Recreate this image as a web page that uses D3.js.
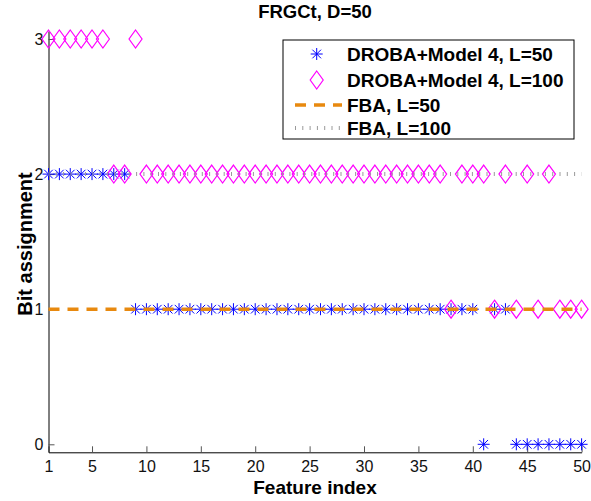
<!DOCTYPE html>
<html><head><meta charset="utf-8">
<script src="https://cdn.jsdelivr.net/npm/d3@7"></script>
<style>body{margin:0;background:#fff}svg{display:block;font-family:"Liberation Sans",Arial,sans-serif}</style>
</head><body><svg id="c" width="591" height="501"></svg>
<script>
const featureIndex = d3.range(1, 51);
// DROBA+Model 4, L=50
const drobaL50 = [2,2,2,2,2,2,2,2,1,1, 1,1,1,1,1,1,1,1,1,1, 1,1,1,1,1,1,1,1,1,1, 1,1,1,1,1,1,1,1,1,1, 0,1,1,0,0,0,0,0,0,0];
// DROBA+Model 4, L=100
const drobaL100 = [3,3,3,3,3,3,2,2,3,2, 2,2,2,2,2,2,2,2,2,2, 2,2,2,2,2,2,2,2,2,2, 2,2,2,2,2,2,2,1,2,2, 2,1,2,1,2,1,2,1,1,1];
// FBA
const fbaL50 = featureIndex.map(() => 1);
const fbaL100 = featureIndex.map(() => 2);
const xTicks = [1,5,10,15,20,25,30,35,40,45,50];
const yTicks = [0,1,2,3];
const legendLabels = ["DROBA+Model 4, L=50","DROBA+Model 4, L=100","FBA, L=50","FBA, L=100"];

const svg = d3.select("#c");
const x = d3.scaleLinear().domain([1,50]).range([48.5,581.6]);
const y = d3.scaleLinear().domain([0,3]).range([444.3,39]);
const yBottom = 452.3, yTop = 31;

const blue="#0000ff", magenta="#ff00ff", orange="#e8890f", grey="#9a9a9a";

// axes
const xAxis = d3.axisBottom(x).tickValues(xTicks).tickSizeInner(-6).tickSizeOuter(0).tickPadding(8);
const gx = svg.append("g").attr("transform",`translate(0,${yBottom})`).call(xAxis);
gx.select(".domain").attr("stroke","#000");
gx.selectAll(".tick line").attr("stroke","#555");
gx.selectAll("text").attr("font-size",16).attr("font-family","Liberation Sans, Arial").attr("fill","#111");

const yAxisScale = d3.scaleLinear().domain([y.invert(yBottom), y.invert(yTop)]).range([yBottom,yTop]);
const yAxis = d3.axisLeft(yAxisScale).tickValues(yTicks).tickSizeInner(-6).tickSizeOuter(0).tickPadding(5).tickFormat(d3.format("d"));
const gy = svg.append("g").attr("transform",`translate(${x(1)},0)`).call(yAxis);
gy.select(".domain").attr("stroke","#000");
gy.selectAll(".tick line").attr("stroke","#555");
gy.selectAll("text").attr("font-size",16).attr("font-family","Liberation Sans, Arial").attr("fill","#111");

function starPath(r){ const d=r*0.72; return `M${-r},0L${r},0M0,${-r}L0,${r}M${-d},${-d}L${d},${d}M${-d},${d}L${d},${-d}`; }
function diamondPath(w,h){ return `M0,${-h}L${w},0L0,${h}L${-w},0Z`; }

const plot = svg.append("g");
plot.selectAll(".star").data(featureIndex).join("path").attr("class","star")
  .attr("transform",(d,i)=>`translate(${x(d)},${y(drobaL50[i])})`)
  .attr("d",starPath(6)).attr("stroke",blue).attr("stroke-width",1).attr("fill","none");
plot.selectAll(".dia").data(featureIndex).join("path").attr("class","dia")
  .attr("transform",(d,i)=>`translate(${x(d)},${y(drobaL100[i])})`)
  .attr("d",diamondPath(6.5,9)).attr("stroke",magenta).attr("stroke-width",1.2).attr("fill","none");

const line = d3.line().x((d,i)=>x(featureIndex[i])).y(d=>y(d));
plot.append("path").datum(fbaL50).attr("d",line).attr("fill","none").attr("stroke",orange)
  .attr("stroke-width",3.5).attr("stroke-dasharray","11,8");
plot.append("path").datum(fbaL100).attr("d",line).attr("fill","none").attr("stroke",grey)
  .attr("stroke-width",4).attr("stroke-dasharray","1,6.3");

// title & labels
svg.append("text").attr("x",315).attr("y",18).attr("text-anchor","middle")
  .attr("font-size",18.5).attr("font-weight","bold").text("FRGCt, D=50");
svg.append("text").attr("x",315).attr("y",494).attr("text-anchor","middle")
  .attr("font-size",19).attr("font-weight","bold").text("Feature index");
svg.append("text").attr("transform","translate(32,244) rotate(-90)").attr("text-anchor","middle")
  .attr("font-size",20).attr("font-weight","bold").text("Bit assignment");

// legend
const lg = svg.append("g");
lg.append("rect").attr("x",283).attr("y",40).attr("width",291).attr("height",99)
  .attr("fill","#fff").attr("stroke","#000").attr("stroke-width",1);
const ly = [54,80,105,128];
lg.selectAll(".lt").data(legendLabels).join("text").attr("class","lt")
  .attr("x",347).attr("y",(d,i)=>ly[i]+6.5).attr("font-size",19).attr("font-weight","bold").text(d=>d);
lg.append("path").attr("transform",`translate(316.7,${ly[0]})`).attr("d",starPath(6)).attr("stroke",blue).attr("fill","none");
lg.append("path").attr("transform",`translate(316.7,${ly[1]})`).attr("d",diamondPath(6.5,9)).attr("stroke",magenta).attr("stroke-width",1.2).attr("fill","none");
lg.append("line").attr("x1",295).attr("x2",342).attr("y1",ly[2]).attr("y2",ly[2]).attr("stroke",orange).attr("stroke-width",3.5).attr("stroke-dasharray","11,8");
lg.append("line").attr("x1",295).attr("x2",342).attr("y1",ly[3]).attr("y2",ly[3]).attr("stroke",grey).attr("stroke-width",4).attr("stroke-dasharray","1,6.3");
</script></body></html>
